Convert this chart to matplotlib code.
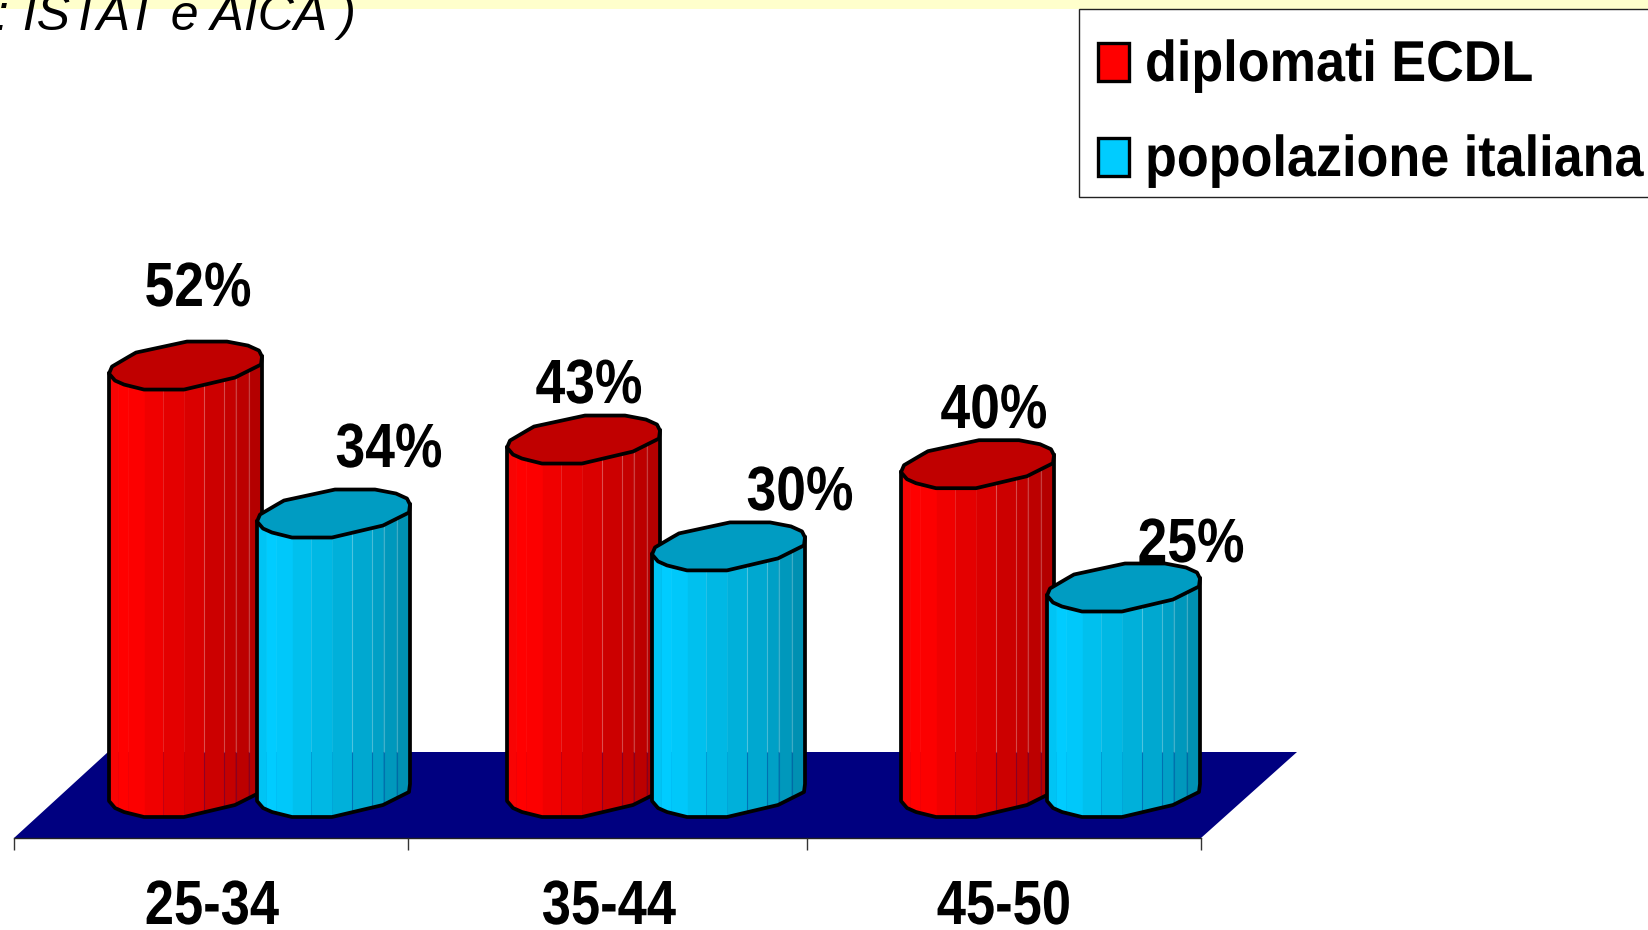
import numpy as np
import matplotlib
matplotlib.use('Agg')
import matplotlib.pyplot as plt
from matplotlib.patches import Polygon, Rectangle
from matplotlib.patheffects import AbstractPathEffect
from matplotlib.transforms import Affine2D

categories = ['25-34', '35-44', '45-50']
diplomati = [52, 43, 40]
popolazione = [34, 30, 25]
legend_labels = ['diplomati ECDL', 'popolazione italiana']
source_text = ': ISTAT e AICA )'

PX_X = 395.7   # pixels per category
PX_Y = 8.22    # pixels per percent
X0 = 14
Y0 = 817
W, H = 1649, 930

# outline of the column top, pixels from the left / lowest point
front_shape = [(0, 16), (6, 9), (15, 5), (35, 0), (75, 0), (126, 12), (138, 18), (152, 25), (153, 33)]
back_shape = [(150, 39), (139, 44), (118, 48), (78, 48), (27, 37), (20, 33), (3, 23)]

strip_edges = [0, .065, .13, .237, .355, .495, .624, .753, .828, .914, 1]
red_strips = ['#f80404', '#ff0000', '#fc0000', '#f00000', '#e40000', '#da0000', '#cc0000', '#c40000', '#bc0000', '#b40000']
blue_strips = ['#00c4f4', '#00ccff', '#00c8fa', '#00c0ee', '#00b8e4', '#00b0da', '#00a8d0', '#00a0c6', '#0098bc', '#0090b2']

plt.rcParams['font.family'] = ['Liberation Sans']

fig = plt.figure(figsize=(16.49, 9.30), dpi=100)
ax = fig.add_axes([0, 0, 1, 1])
ax.set_xlim(-X0 / PX_X, (W - X0) / PX_X)
ax.set_ylim((Y0 - H) / PX_Y, Y0 / PX_Y)
ax.axis('off')


class Squeeze(AbstractPathEffect):
    # narrows a text around a pixel column, the reference font is condensed
    def __init__(self, cx, sx):
        super().__init__()
        self.cx = cx
        self.sx = sx

    def draw_path(self, renderer, gc, tpath, affine, rgbFace=None):
        squeeze = Affine2D().translate(-self.cx, 0).scale(self.sx, 1).translate(self.cx, 0)
        renderer.draw_path(gc, tpath, affine + squeeze, rgbFace)


def px(x, y):
    # pixel position to axes data
    return (x - X0) / PX_X, (Y0 - y) / PX_Y


# yellow band and clipped source line
ax.add_patch(Polygon([px(0, 0), px(W, 0), px(W, 9), px(0, 9)], color='#ffffcc', lw=0, zorder=1))
sx, sy = px(356, 30)
ax.text(sx, sy, source_text, family=['Liberation Sans'], style='italic', fontsize=36,
        ha='right', va='baseline', color='black', zorder=2)

# floor
floor = [px(14, 838), px(1201, 838), px(1297, 752), px(108, 752)]
ax.add_patch(Polygon(floor, facecolor='#000080', edgecolor='none', zorder=1))
ax.plot([px(14, 0)[0], px(1201, 0)[0]], [px(0, 838)[1]] * 2, color='#222222', lw=1, zorder=1)
tick_px = [14, 408, 807, 1201]
ax.vlines([px(t, 0)[0] for t in tick_px], px(0, 850)[1], px(0, 838)[1], color='#333333', lw=1, zorder=1)


def column(left, value, strips, top_color, z):
    # one cylinder: left in pixels, value in percent
    width = 153
    fx = np.array([p[0] for p in front_shape], dtype=float)
    fy = np.array([p[1] for p in front_shape], dtype=float)
    edges = [e * width for e in strip_edges]
    floor_back = px(0, 752)[1]
    for i, c in enumerate(strips):
        xs = np.linspace(edges[i], edges[i + 1], 5)
        low = np.interp(xs, fx, fy)
        pts = [((left + a - X0) / PX_X, b / PX_Y) for a, b in zip(xs, low)]
        pts += [((left + a - X0) / PX_X, b / PX_Y + value) for a, b in zip(xs[::-1], low[::-1])]
        ax.add_patch(Polygon(pts, facecolor=c, edgecolor=c, lw=0.3, zorder=z))
    # seams between strips, only the shaded side shows them
    for e in edges[1:-1]:
        if e < 0.6 * width:
            continue
        x = (left + e - X0) / PX_X
        low = np.interp(e, fx, fy) / PX_Y
        ax.plot([x, x], [floor_back, value + low], color='white', alpha=0.25, lw=0.8, zorder=z)
        ax.plot([x, x], [low, floor_back], color='#000080', alpha=0.25, lw=0.8, zorder=z)
    # outline
    outline = [((left - X0) / PX_X, value + 16 / PX_Y)]
    outline += [((left + a - X0) / PX_X, b / PX_Y) for a, b in front_shape]
    outline += [((left + front_shape[-1][0] - X0) / PX_X, value + front_shape[-1][1] / PX_Y)]
    xs, ys = zip(*outline)
    ax.plot(xs, ys, color='black', lw=2.7, solid_joinstyle='round', zorder=z + 0.1)
    top = [((left + a - X0) / PX_X, value + b / PX_Y) for a, b in front_shape + back_shape]
    ax.add_patch(Polygon(top, closed=True, facecolor=top_color, edgecolor='black', lw=2.7,
                         joinstyle='round', zorder=z + 0.2))


red_left = [109, 507, 901]
blue_left = [257, 652, 1047]
# label centre x and baseline y in pixels
red_text = [(198, 306), (589, 403), (994, 428)]
blue_text = [(389, 467), (800, 510), (1191, 562)]
cat_px = [212, 609, 1004]

for i in range(len(categories)):
    column(red_left[i], diplomati[i], red_strips, '#c00000', 3 + i * 2)
    column(blue_left[i], popolazione[i], blue_strips, '#009cc2', 4 + i * 2)
    for (tx, ty), v in ((red_text[i], diplomati[i]), (blue_text[i], popolazione[i])):
        lx, ly = px(tx, ty)
        ax.text(lx, ly, f'{v}%', fontsize=45, fontweight='bold', ha='center', va='baseline', zorder=20,
                path_effects=[Squeeze(tx, 0.855)])
    lx, ly = px(cat_px[i], 924)
    ax.text(lx, ly, categories[i], fontsize=45, fontweight='bold', ha='center', va='baseline', zorder=20,
            path_effects=[Squeeze(cat_px[i], 0.84)])

# legend, runs past the right edge
lx0, ly0 = px(1079, 197)
lx1, ly1 = px(1660, 9)
ax.add_patch(Rectangle((lx0, ly0), lx1 - lx0, ly1 - ly0, facecolor='white', edgecolor='#222222', lw=1, zorder=21))
swatches = [('#ff0000', 43, 81), ('#00ccff', 138, 176)]
for (c, y0, y1), lab in zip(swatches, legend_labels):
    a, b = px(1098, y1)
    a2, b2 = px(1129, y0)
    ax.add_patch(Rectangle((a, b), a2 - a, b2 - b, facecolor=c, edgecolor='black', lw=2.4, zorder=22))
    tx, ty = px(1145, y1)
    ax.text(tx, ty, lab, fontsize=41.5, fontweight='bold', ha='left', va='baseline', zorder=22,
            path_effects=[Squeeze(1145, 0.905)])

fig.savefig('out.png', dpi=100)
